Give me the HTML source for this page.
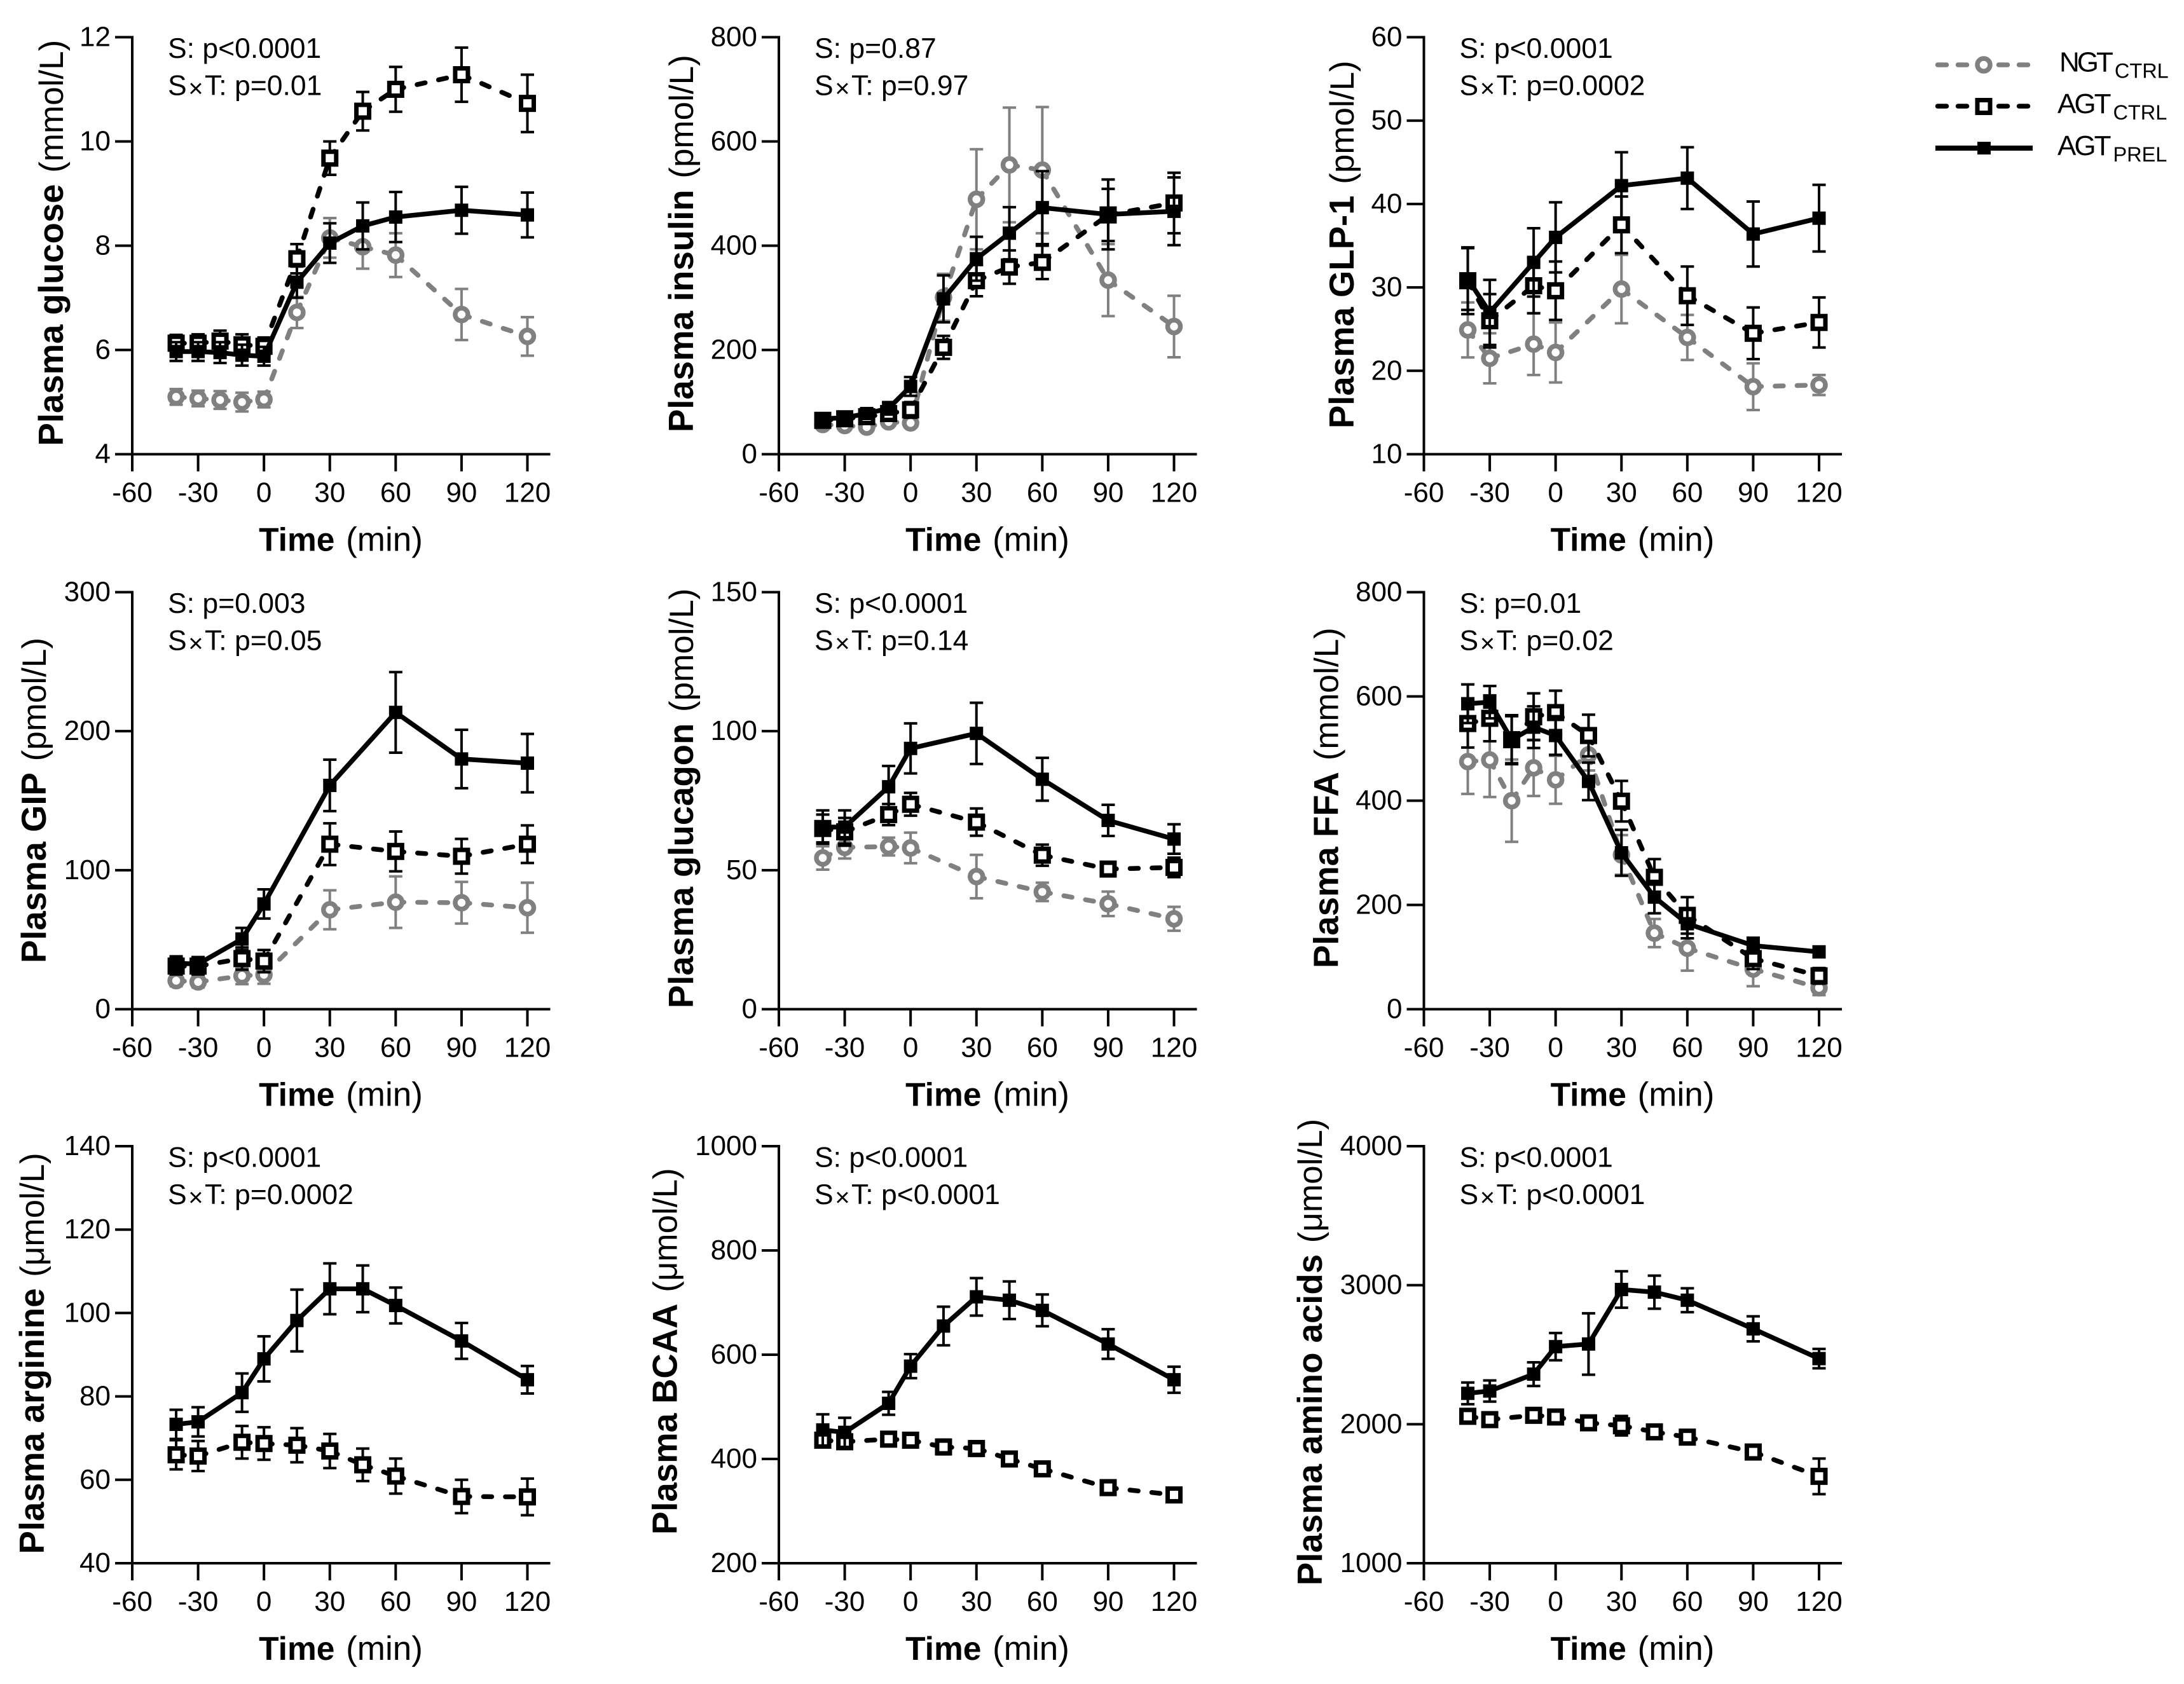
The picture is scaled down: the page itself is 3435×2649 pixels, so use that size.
<!DOCTYPE html>
<html lang="en">
<head>
<meta charset="utf-8">
<title>Plasma metabolite and hormone time courses</title>
<style>
html,body{margin:0;padding:0;background:#fff}
svg{display:block}
text{font-family:"Liberation Sans",Arial,sans-serif;fill:#000}
</style>
</head>
<body>
<svg id="figure" xmlns="http://www.w3.org/2000/svg" width="3435" height="2649" viewBox="0 0 3435 2649">
  <rect x="0" y="0" width="3435" height="2649" fill="#fff"/>
  <g id="panels"></g>
  <g id="legend">
    <g>
      <path d="M3047.5 102H3193" fill="none" stroke="#808080" stroke-width="7.5" stroke-linecap="round" stroke-dasharray="14 18"/>
      <circle cx="3120" cy="102" r="10" fill="#fff" stroke="#808080" stroke-width="7.5"/>
      <text x="3239" y="112.5" font-size="44" letter-spacing="-4">NGT<tspan font-size="32.5" dy="10" dx="6" letter-spacing="0">CTRL</tspan></text>
    </g>
    <g>
      <path d="M3047.5 167H3193" fill="none" stroke="#000" stroke-width="7.5" stroke-linecap="round" stroke-dasharray="14 18"/>
      <rect x="3110" y="157.5" width="20" height="20" fill="#fff" stroke="#000" stroke-width="7"/>
      <text x="3236" y="178" font-size="44" letter-spacing="-3">AGT<tspan font-size="32.5" dy="10" dx="6" letter-spacing="0">CTRL</tspan></text>
    </g>
    <g>
      <path d="M3044 233H3197" fill="none" stroke="#000" stroke-width="8"/>
      <rect x="3110" y="223" width="21" height="20" fill="#000"/>
      <text x="3236" y="244" font-size="44" letter-spacing="-3">AGT<tspan font-size="32.5" dy="10" dx="6" letter-spacing="0">PREL</tspan></text>
    </g>
  </g>
</svg>
<script>
// ---- shared tick labels ----
const xTickLabels = [-60, -30, 0, 30, 60, 90, 120];

// ---- sampling times ----
const timesFull = [-40, -30, -20, -10, 0, 15, 30, 45, 60, 90, 120];
const timesShort = [-40, -30, -10, 0, 30, 60, 90, 120];
const timesAmino = [-40, -30, -10, 0, 15, 30, 45, 60, 90, 120];

// ---- plasma glucose ----
const glucoseTicks = [4, 6, 8, 10, 12];
const glucoseNgt = [5.1, 5.07, 5.04, 5.0, 5.05, 6.72, 8.15, 7.98, 7.82, 6.68, 6.26];
const glucoseNgtErr = [0.15, 0.15, 0.17, 0.18, 0.15, 0.3, 0.38, 0.42, 0.42, 0.49, 0.37];
const glucoseCtrl = [6.13, 6.13, 6.17, 6.1, 6.07, 7.75, 9.68, 10.58, 11.0, 11.28, 10.73];
const glucoseCtrlErr = [0.16, 0.17, 0.2, 0.2, 0.17, 0.28, 0.32, 0.37, 0.43, 0.52, 0.55];
const glucosePrel = [5.97, 5.97, 5.95, 5.9, 5.88, 7.3, 8.05, 8.38, 8.55, 8.68, 8.59];
const glucosePrelErr = [0.18, 0.18, 0.2, 0.2, 0.18, 0.3, 0.38, 0.45, 0.48, 0.45, 0.43];

// ---- plasma insulin ----
const insulinTicks = [0, 200, 400, 600, 800];
const insulinNgt = [57, 55, 52, 62, 60, 301, 489, 555, 545, 334, 245];
const insulinNgtErr = [8, 8, 8, 8, 8, 45, 96, 110, 121, 69, 59];
const insulinCtrl = [65, 68, 72, 78, 85, 205, 333, 359, 368, 459, 482];
const insulinCtrlErr = [8, 8, 8, 10, 15, 22, 30, 32, 32, 50, 58];
const insulinPrel = [68, 70, 78, 88, 130, 298, 375, 424, 473, 460, 466];
const insulinPrelErr = [10, 10, 10, 12, 18, 45, 42, 50, 70, 67, 65];

// ---- plasma GLP-1 ----
const glp1Ticks = [10, 20, 30, 40, 50, 60];
const glp1Ngt = [24.9, 21.5, 23.2, 22.2, 29.8, 24, 18.1, 18.3];
const glp1NgtErr = [3.3, 3, 3.7, 3.6, 4.1, 2.7, 2.8, 1.2];
const glp1Ctrl = [30.8, 26, 30.2, 29.6, 37.5, 29, 24.5, 25.8];
const glp1CtrlErr = [4, 3.2, 3.3, 3.5, 3.4, 3.5, 3.1, 3];
const glp1Prel = [31, 27, 33, 36, 42.2, 43.1, 36.4, 38.3];
const glp1PrelErr = [3.7, 3.9, 4.1, 4.2, 4, 3.7, 3.9, 4];

// ---- plasma GIP ----
const gipTicks = [0, 100, 200, 300];
const gipNgt = [20.5, 19.6, 24, 24.8, 71.5, 77, 76.6, 73];
const gipNgtErr = [4, 4, 6, 6.5, 14, 18.5, 15, 18];
const gipCtrl = [31, 31, 36.4, 34.6, 118.7, 113.5, 110, 118.7];
const gipCtrlErr = [6, 6, 8, 8, 15, 14.3, 12.5, 13.5];
const gipPrel = [33, 32.5, 50.5, 75.7, 161, 213.5, 180, 177];
const gipPrelErr = [5, 5, 8, 10.5, 18.5, 29, 21, 21];

// ---- plasma glucagon ----
const glucagonTicks = [0, 50, 100, 150];
const glucagonNgt = [54.4, 58.2, 58.5, 58, 47.7, 42.2, 37.9, 32.5];
const glucagonNgtErr = [4.2, 4, 3.2, 5.5, 7.8, 3.3, 4.4, 4.3];
const glucagonCtrl = [65, 63.8, 70, 73.7, 67.3, 55.4, 50.4, 51];
const glucagonCtrlErr = [5, 5, 3.8, 4.1, 4.9, 3.8, 2.5, 3.5];
const glucagonPrel = [65.5, 65.5, 80, 93.8, 99.2, 82.7, 67.9, 61.2];
const glucagonPrelErr = [6, 6, 7.5, 9, 11, 7.7, 5.6, 5.3];

// ---- plasma FFA ----
const ffaTicks = [0, 200, 400, 600, 800];
const ffaNgt = [475, 478, 400, 463, 440, 488, 296, 146, 117, 77, 41];
const ffaNgtErr = [62, 71, 79, 54, 46, 30, 38, 27, 43, 33, 14];
const ffaCtrl = [548, 558, 517, 561, 569, 525, 399, 253, 180, 97, 64];
const ffaCtrlErr = [46, 44, 45, 45, 42, 40, 39, 35, 35, 20, 15];
const ffaPrel = [586, 589, 517, 541, 525, 437, 300, 215, 164, 122, 110];
const ffaPrelErr = [37, 31, 47, 40, 37, 36, 44, 31, 28, 15, 10];

// ---- plasma arginine ----
const arginineTicks = [40, 60, 80, 100, 120, 140];
const arginineCtrl = [66, 65.7, 69, 68.7, 68.3, 66.9, 63.6, 60.9, 56, 55.9];
const arginineCtrlErr = [3.5, 3.6, 3.9, 3.9, 4.1, 4.1, 3.9, 4.2, 4, 4.4];
const argininePrel = [73.3, 73.9, 80.9, 89, 98.2, 105.8, 105.8, 101.8, 93.3, 84];
const argininePrelErr = [3.5, 3.5, 4.6, 5.4, 7.4, 6.1, 5.6, 4.3, 4.3, 3.3];

// ---- plasma BCAA ----
const bcaaTicks = [200, 400, 600, 800, 1000];
const bcaaCtrl = [436, 433, 438, 436, 423, 420, 400, 381, 345, 331];
const bcaaCtrlErr = [12, 12, 8, 8, 14, 14, 8, 12, 10, 8];
const bcaaPrel = [455.7, 451, 506.7, 578, 655, 711, 704.5, 685, 620.5, 552];
const bcaaPrelErr = [30, 28, 22, 23, 37, 36, 36, 30.5, 28.5, 25];

// ---- plasma amino acids ----
const aminoTicks = [1000, 2000, 3000, 4000];
const aminoCtrl = [2057, 2033, 2064, 2052, 2010, 1989, 1945, 1907, 1800, 1625];
const aminoCtrlErr = [40, 40, 30, 40, 50, 70, 40, 25, 30, 128];
const aminoPrel = [2222, 2239, 2360, 2558, 2577, 2969, 2950, 2892, 2686, 2472];
const aminoPrelErr = [78, 76, 85, 98, 221, 131, 119, 86, 90, 70];

// ---- panel definitions ----
const panels = [
  {id:'glucose', bold:'Plasma glucose', unit:'(mmol/L)', col:0, row:0, labelX:99, labelY:701.5, p1:'S: p&lt;0.0001', p2:'p=0.01', times:timesFull, ticks:glucoseTicks, ngt:glucoseNgt, ngtErr:glucoseNgtErr, ctrl:glucoseCtrl, ctrlErr:glucoseCtrlErr, prel:glucosePrel, prelErr:glucosePrelErr},
  {id:'insulin', bold:'Plasma insulin', unit:'(pmol/L)', col:1, row:0, labelX:1090, labelY:680, p1:'S: p=0.87', p2:'p=0.97', times:timesFull, ticks:insulinTicks, ngt:insulinNgt, ngtErr:insulinNgtErr, ctrl:insulinCtrl, ctrlErr:insulinCtrlErr, prel:insulinPrel, prelErr:insulinPrelErr},
  {id:'glp1', bold:'Plasma GLP-1', unit:'(pmol/L)', col:2, row:0, labelX:2129, labelY:674, p1:'S: p&lt;0.0001', p2:'p=0.0002', times:timesShort, ticks:glp1Ticks, ngt:glp1Ngt, ngtErr:glp1NgtErr, ctrl:glp1Ctrl, ctrlErr:glp1CtrlErr, prel:glp1Prel, prelErr:glp1PrelErr},
  {id:'gip', bold:'Plasma GIP', unit:'(pmol/L)', col:0, row:1, labelX:72, labelY:1515, p1:'S: p=0.003', p2:'p=0.05', times:timesShort, ticks:gipTicks, ngt:gipNgt, ngtErr:gipNgtErr, ctrl:gipCtrl, ctrlErr:gipCtrlErr, prel:gipPrel, prelErr:gipPrelErr},
  {id:'glucagon', bold:'Plasma glucagon', unit:'(pmol/L)', col:1, row:1, labelX:1090, labelY:1586, p1:'S: p&lt;0.0001', p2:'p=0.14', times:timesShort, ticks:glucagonTicks, ngt:glucagonNgt, ngtErr:glucagonNgtErr, ctrl:glucagonCtrl, ctrlErr:glucagonCtrlErr, prel:glucagonPrel, prelErr:glucagonPrelErr},
  {id:'ffa', bold:'Plasma FFA', unit:'(mmol/L)', col:2, row:1, labelX:2104.5, labelY:1523, p1:'S: p=0.01', p2:'p=0.02', times:timesFull, ticks:ffaTicks, ngt:ffaNgt, ngtErr:ffaNgtErr, ctrl:ffaCtrl, ctrlErr:ffaCtrlErr, prel:ffaPrel, prelErr:ffaPrelErr},
  {id:'arginine', bold:'Plasma arginine', unit:'(\u03bcmol/L)', col:0, row:2, labelX:69, labelY:2444.5, p1:'S: p&lt;0.0001', p2:'p=0.0002', times:timesAmino, ticks:arginineTicks, ctrl:arginineCtrl, ctrlErr:arginineCtrlErr, prel:argininePrel, prelErr:argininePrelErr},
  {id:'bcaa', bold:'Plasma BCAA', unit:'(\u03bcmol/L)', col:1, row:2, labelX:1064.4, labelY:2414, p1:'S: p&lt;0.0001', p2:'p&lt;0.0001', times:timesAmino, ticks:bcaaTicks, ctrl:bcaaCtrl, ctrlErr:bcaaCtrlErr, prel:bcaaPrel, prelErr:bcaaPrelErr},
  {id:'amino-acids', bold:'Plasma amino acids', unit:'(\u03bcmol/L)', col:2, row:2, labelX:2079, labelY:2494, p1:'S: p&lt;0.0001', p2:'p&lt;0.0001', times:timesAmino, ticks:aminoTicks, ctrl:aminoCtrl, ctrlErr:aminoCtrlErr, prel:aminoPrel, prelErr:aminoPrelErr}
];

const colX = [208, 1225, 2239.5];
const rowTop = [58.5, 931.5, 1803];
const plotH = 656;
const pxPerMin = 621.5 / 180;
const axisOverhang = 36;
const NS = 'http://www.w3.org/2000/svg';
const GREY = '#808080';

function mk(parent, tag, attrs) {
  const el = document.createElementNS(NS, tag);
  for (const k in attrs) el.setAttribute(k, attrs[k]);
  parent.appendChild(el);
  return el;
}

function drawSeries(g, panel, name, values, errs, xOf, yOf) {
  const color = name === 'ngt-ctrl' ? GREY : '#000';
  const series = mk(g, 'g', {});
  
  

  values.forEach(function (v, i) {
    const x = xOf(panel.times[i]);
    const yu = yOf(v + errs[i]);
    const yl = yOf(v - errs[i]);
    const bar = mk(series, 'path', {
      d: 'M' + x + ' ' + yu + 'V' + yl + 'M' + (x - 10.5) + ' ' + yu + 'H' + (x + 10.5) + 'M' + (x - 10.5) + ' ' + yl + 'H' + (x + 10.5),
      fill: 'none', stroke: color, 'stroke-width': 4
    });
    
    
  });

  let d = '';
  for (let i = 0; i < values.length - 1; i++) {
    d += 'M' + xOf(panel.times[i]) + ' ' + yOf(values[i]) + 'L' + xOf(panel.times[i + 1]) + ' ' + yOf(values[i + 1]);
  }
  const lineAttrs = {d: d, fill: 'none', stroke: color, 'stroke-width': 7.5};
  if (name !== 'agt-prel') {
    lineAttrs['stroke-linecap'] = 'round';
    lineAttrs['stroke-dasharray'] = '13 21.5';
    lineAttrs['stroke-dashoffset'] = '0';
  }
  const line = mk(series, 'path', lineAttrs);
  
  

  values.forEach(function (v, i) {
    const x = xOf(panel.times[i]);
    const y = yOf(v);
    let m;
    if (name === 'ngt-ctrl') {
      m = mk(series, 'circle', {cx: x, cy: y, r: 10, fill: '#fff', stroke: GREY, 'stroke-width': 7.5});
    } else if (name === 'agt-ctrl') {
      m = mk(series, 'rect', {x: x - 10, y: y - 10, width: 20, height: 20, fill: '#fff', stroke: '#000', 'stroke-width': 7});
    } else {
      m = mk(series, 'rect', {x: x - 10.5, y: y - 10.5, width: 21, height: 21, fill: '#000'});
    }
    
    
  });
}

function drawPanel(root, p) {
  const x0 = colX[p.col];
  const top = rowTop[p.row];
  const bottom = top + plotH;
  const yMin = p.ticks[0];
  const yMax = p.ticks[p.ticks.length - 1];
  const xOf = function (t) { return x0 + (t - xTickLabels[0]) * pxPerMin; };
  const yOf = function (v) { return bottom - (v - yMin) / (yMax - yMin) * plotH; };

  const g = mk(root, 'g', {});
  
  

  // series first, axes on top
  if (p.ngt) drawSeries(g, p, 'ngt-ctrl', p.ngt, p.ngtErr, xOf, yOf);
  drawSeries(g, p, 'agt-ctrl', p.ctrl, p.ctrlErr, xOf, yOf);
  drawSeries(g, p, 'agt-prel', p.prel, p.prelErr, xOf, yOf);

  const xEnd = xOf(xTickLabels[xTickLabels.length - 1]) + axisOverhang;
  const yAxis = mk(g, 'line', {x1: x0, y1: top - 2, x2: x0, y2: bottom + 27, stroke: '#000', 'stroke-width': 4});
  
  
  const xAxis = mk(g, 'line', {x1: x0 - 27, y1: bottom, x2: xEnd, y2: bottom, stroke: '#000', 'stroke-width': 4});
  
  

  p.ticks.forEach(function (t) {
    const y = yOf(t);
    const tick = mk(g, 'line', {x1: x0 - 27, y1: y, x2: x0, y2: y, stroke: '#000', 'stroke-width': 4});
    
    
    const lab = mk(g, 'text', {x: x0 - 34, y: y + 14, 'font-size': 44, 'text-anchor': 'end'});
    
    
    lab.textContent = String(t);
  });

  xTickLabels.forEach(function (t) {
    const x = xOf(t);
    const tick = mk(g, 'line', {x1: x, y1: bottom, x2: x, y2: bottom + 27, stroke: '#000', 'stroke-width': 4});
    
    
    const lab = mk(g, 'text', {x: x, y: bottom + 75, 'font-size': 44, 'text-anchor': 'middle'});
    
    
    lab.textContent = String(t);
  });

  const xt = mk(g, 'text', {x: x0 + 328, y: bottom + 152, 'font-size': 51.5, 'text-anchor': 'middle'});
  
  
  xt.innerHTML = '<tspan font-weight="bold">Time</tspan><tspan dx="3" font-size="53"> (min)</tspan>';

  const yt = mk(g, 'text', {x: 0, y: 0, transform: 'translate(' + p.labelX + ' ' + p.labelY + ') rotate(-90)'});
  
  
  yt.innerHTML = '<tspan font-weight="bold" font-size="54.5">' + p.bold + '</tspan><tspan font-size="53" dx="3"> ' + p.unit + '</tspan>';

  const a1 = mk(g, 'text', {x: x0 + 56, y: top + 32.5, 'font-size': 44.5});
  
  
  a1.innerHTML = p.p1;
  const a2 = mk(g, 'text', {x: x0 + 56, y: top + 91, 'font-size': 44.5});
  
  
  a2.innerHTML = 'S<tspan font-size="40" dx="2.5" dy="3">\u00d7</tspan><tspan dx="2.5" dy="-3">T: ' + p.p2 + '</tspan>';
}

const panelsRoot = document.getElementById('panels');
panels.forEach(function (p) { drawPanel(panelsRoot, p); });
</script>
</body>
</html>
